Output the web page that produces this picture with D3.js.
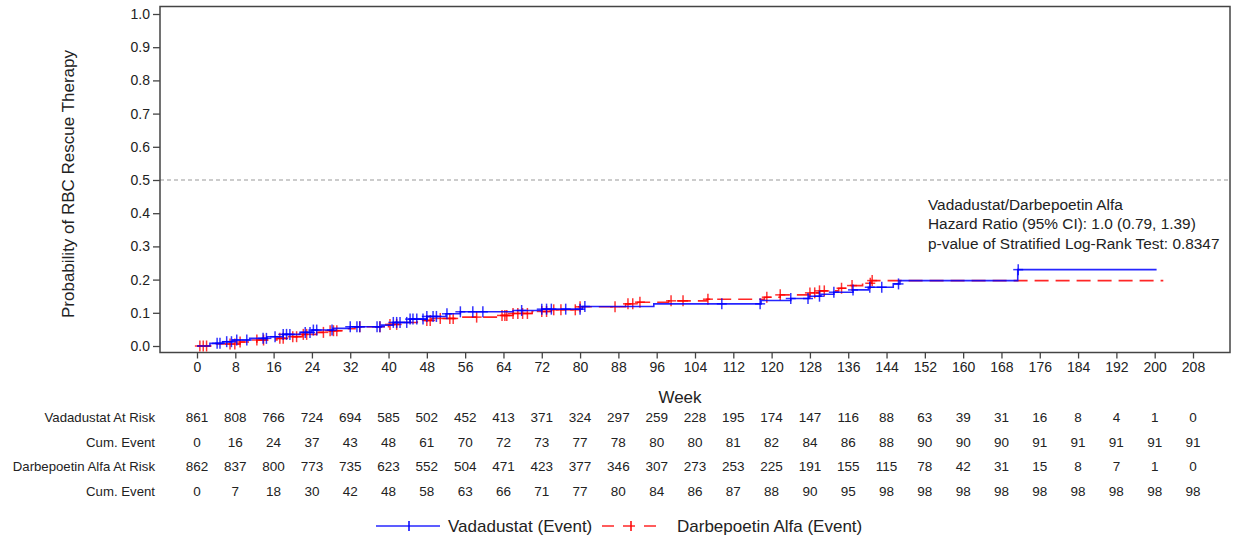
<!DOCTYPE html>
<html><head><meta charset="utf-8">
<script src="https://cdn.jsdelivr.net/npm/d3@7"></script>
<style>body{margin:0;background:#fff}svg{display:block}text{font-family:"Liberation Sans",Arial,sans-serif;fill:#222}</style>
</head><body><svg id="c" width="1233" height="537"></svg>
<script>
const weekTicks = [0,8,16,24,32,40,48,56,64,72,80,88,96,104,112,120,128,136,144,152,160,168,176,184,192,200,208];
const probTicks = [0.0,0.1,0.2,0.3,0.4,0.5,0.6,0.7,0.8,0.9,1.0];
const vadaSteps = [[0,0],[2.7,0.008],[5.4,0.013],[7.5,0.018],[11,0.023],[14.6,0.028],[18,0.035],[21.5,0.041],[24,0.048],[28.4,0.053],[32,0.058],[38.5,0.063],[41,0.071],[44.5,0.081],[48,0.089],[52,0.097],[55,0.103],[66,0.107],[72,0.111],[80.5,0.119],[95.4,0.127],[117.8,0.137],[124,0.143],[127.8,0.150],[130.3,0.156],[133,0.162],[137,0.169],[140.2,0.177],[145.4,0.187],[146.8,0.197],[171.4,0.23]];
const vadaEnd = 200.4;
const darbSteps = [[0,0],[4,0.006],[9,0.012],[12.5,0.018],[16.7,0.023],[19.4,0.028],[22,0.035],[25,0.041],[27.8,0.046],[30.5,0.052],[33,0.058],[40,0.065],[43,0.071],[46,0.077],[49,0.083],[55,0.087],[63.5,0.092],[66,0.098],[70,0.104],[74,0.109],[79.5,0.118],[89.5,0.127],[92,0.132],[98.5,0.136],[106.5,0.141],[118.5,0.147],[121.8,0.154],[128,0.160],[130,0.166],[134,0.174],[136.5,0.182],[139,0.189],[140.8,0.197]];
const darbEnd = 201.8;
const vadaCensor = [4.2,4.8,6.2,7.2,8.3,10.4,13.8,14.5,16.3,18,18.7,19.4,22.6,23.6,24.3,25,28.2,32,33.4,34,37.6,38.2,41,41.7,42.4,43.8,44.5,45.1,45.9,47.2,48,49.3,50,52.2,55,57.6,59.7,67.8,72,73,74,77,80,81,109.6,117.6,124,127.6,130,133,137,140.5,143,146.5,171.5];
const darbCensor = [0.6,1.3,2,6.9,7.9,9,12.5,13.9,17.3,18,20,20.8,22.2,22.9,26.4,27.8,28.5,29.2,34,38.2,40.3,41.7,48,48.7,50.8,52.8,53.5,58.4,63.7,64.3,64.7,66,67,68,69,72,73,74.5,76,79,80,87.3,90,91,92.5,99,101.5,106.7,119,121.8,128,129,130,131,134.6,136.8,140.6,141];
const rowLabels = ["Vadadustat At Risk","Cum. Event","Darbepoetin Alfa At Risk","Cum. Event"];
const vadaAtRisk = [861,808,766,724,694,585,502,452,413,371,324,297,259,228,195,174,147,116,88,63,39,31,16,8,4,1,0];
const vadaCum = [0,16,24,37,43,48,61,70,72,73,77,78,80,80,81,82,84,86,88,90,90,90,91,91,91,91,91];
const darbAtRisk = [862,837,800,773,735,623,552,504,471,423,377,346,307,273,253,225,191,155,115,78,42,31,15,8,7,1,0];
const darbCum = [0,7,18,30,42,48,58,63,66,71,77,80,84,86,87,88,90,95,98,98,98,98,98,98,98,98,98];
const annotation = ["Vadadustat/Darbepoetin Alfa","Hazard Ratio (95% CI): 1.0 (0.79, 1.39)","p-value of Stratified Log-Rank Test: 0.8347"];
const legendItems = ["Vadadustat (Event)","Darbepoetin Alfa (Event)"];

const svg = d3.select("#c");
const x = d3.scaleLinear().domain([0,208]).range([197,1193]);
const y = d3.scaleLinear().domain([0,1]).range([346,14]);
const L=160,T=6.5,R=1230,B=352.5;
const BLUE="#0000ff", RED="#ff0000";

svg.append("line").attr("x1",L).attr("x2",R).attr("y1",y(0.5)).attr("y2",y(0.5))
  .attr("stroke","#999").attr("stroke-width",1.2).attr("stroke-dasharray","4,3");

const yAxis = d3.axisLeft(y).tickValues(probTicks).tickFormat(d3.format(".1f")).tickSize(7).tickPadding(3);
const gy = svg.append("g").attr("transform",`translate(${L},0)`).call(yAxis);
const xAxis = d3.axisBottom(x).tickValues(weekTicks).tickFormat(d3.format("d")).tickSize(6).tickPadding(4);
const gx = svg.append("g").attr("transform",`translate(0,${B})`).call(xAxis);
[gy,gx].forEach(g=>{g.select(".domain").remove();g.selectAll("line").attr("stroke","#444").attr("stroke-width",1.3);
  g.selectAll("text").attr("font-size",14).style("font-family","'Liberation Sans',Arial,sans-serif").attr("fill","#222");});
svg.append("rect").attr("x",L).attr("y",T).attr("width",R-L).attr("height",B-T)
  .attr("fill","none").attr("stroke","#444").attr("stroke-width",1.5);

function stepVal(steps,t){let v=0;for(const s of steps){if(s[0]<=t)v=s[1];}return v;}
const line = d3.line().x(d=>x(d[0])).y(d=>y(d[1])).curve(d3.curveStepAfter);
function drawCurve(steps,end,color,dash,censor){
  const pts = steps.concat([[end,steps[steps.length-1][1]]]);
  svg.append("path").attr("d",line(pts)).attr("fill","none").attr("stroke",color)
    .attr("stroke-width",1.6).attr("stroke-opacity",0.85).attr("stroke-dasharray",dash);
  const g = svg.append("g").attr("stroke",color).attr("stroke-width",1.5).attr("stroke-opacity",0.8);
  censor.forEach(t=>{const cx=x(t),cy=y(stepVal(steps,t));
    g.append("line").attr("x1",cx).attr("x2",cx).attr("y1",cy-5.5).attr("y2",cy+5.5);
    g.append("line").attr("x1",cx-5).attr("x2",cx+5).attr("y1",cy).attr("y2",cy);});
}
drawCurve(darbSteps,darbEnd,RED,"14,7",darbCensor);
drawCurve(vadaSteps,vadaEnd,BLUE,null,vadaCensor);

annotation.forEach((s,i)=>svg.append("text").attr("x",928).attr("y",209.5+i*19.5).attr("font-size",15.4).text(s));

svg.append("text").attr("transform","translate(74,184) rotate(-90)").attr("text-anchor","middle")
  .attr("font-size",17).text("Probability of RBC Rescue Therapy");
svg.append("text").attr("x",680).attr("y",403).attr("text-anchor","middle").attr("font-size",17).text("Week");

const rows=[vadaAtRisk,vadaCum,darbAtRisk,darbCum];
const rowY=[422,447,471,496];
rows.forEach((r,i)=>{
  svg.append("text").attr("x",155).attr("y",rowY[i]).attr("text-anchor","end").attr("font-size",13.2).text(rowLabels[i]);
  r.forEach((v,j)=>svg.append("text").attr("x",x(weekTicks[j])).attr("y",rowY[i]).attr("text-anchor","middle").attr("font-size",13.5).text(v));
});

const ly=526;
svg.append("line").attr("x1",376).attr("x2",440).attr("y1",ly).attr("y2",ly).attr("stroke",BLUE).attr("stroke-width",1.6).attr("stroke-opacity",0.85);
svg.append("line").attr("x1",409).attr("x2",409).attr("y1",ly-5).attr("y2",ly+5).attr("stroke",BLUE).attr("stroke-width",1.5);
svg.append("text").attr("x",448).attr("y",ly+6).attr("font-size",17).text(legendItems[0]);
svg.append("line").attr("x1",602).attr("x2",661).attr("y1",ly).attr("y2",ly).attr("stroke",RED).attr("stroke-width",1.6).attr("stroke-dasharray","12,9").attr("stroke-opacity",0.85);
svg.append("line").attr("x1",631).attr("x2",631).attr("y1",ly-5).attr("y2",ly+5).attr("stroke",RED).attr("stroke-width",1.5);
svg.append("text").attr("x",677).attr("y",ly+6).attr("font-size",17).text(legendItems[1]);
</script></body></html>
